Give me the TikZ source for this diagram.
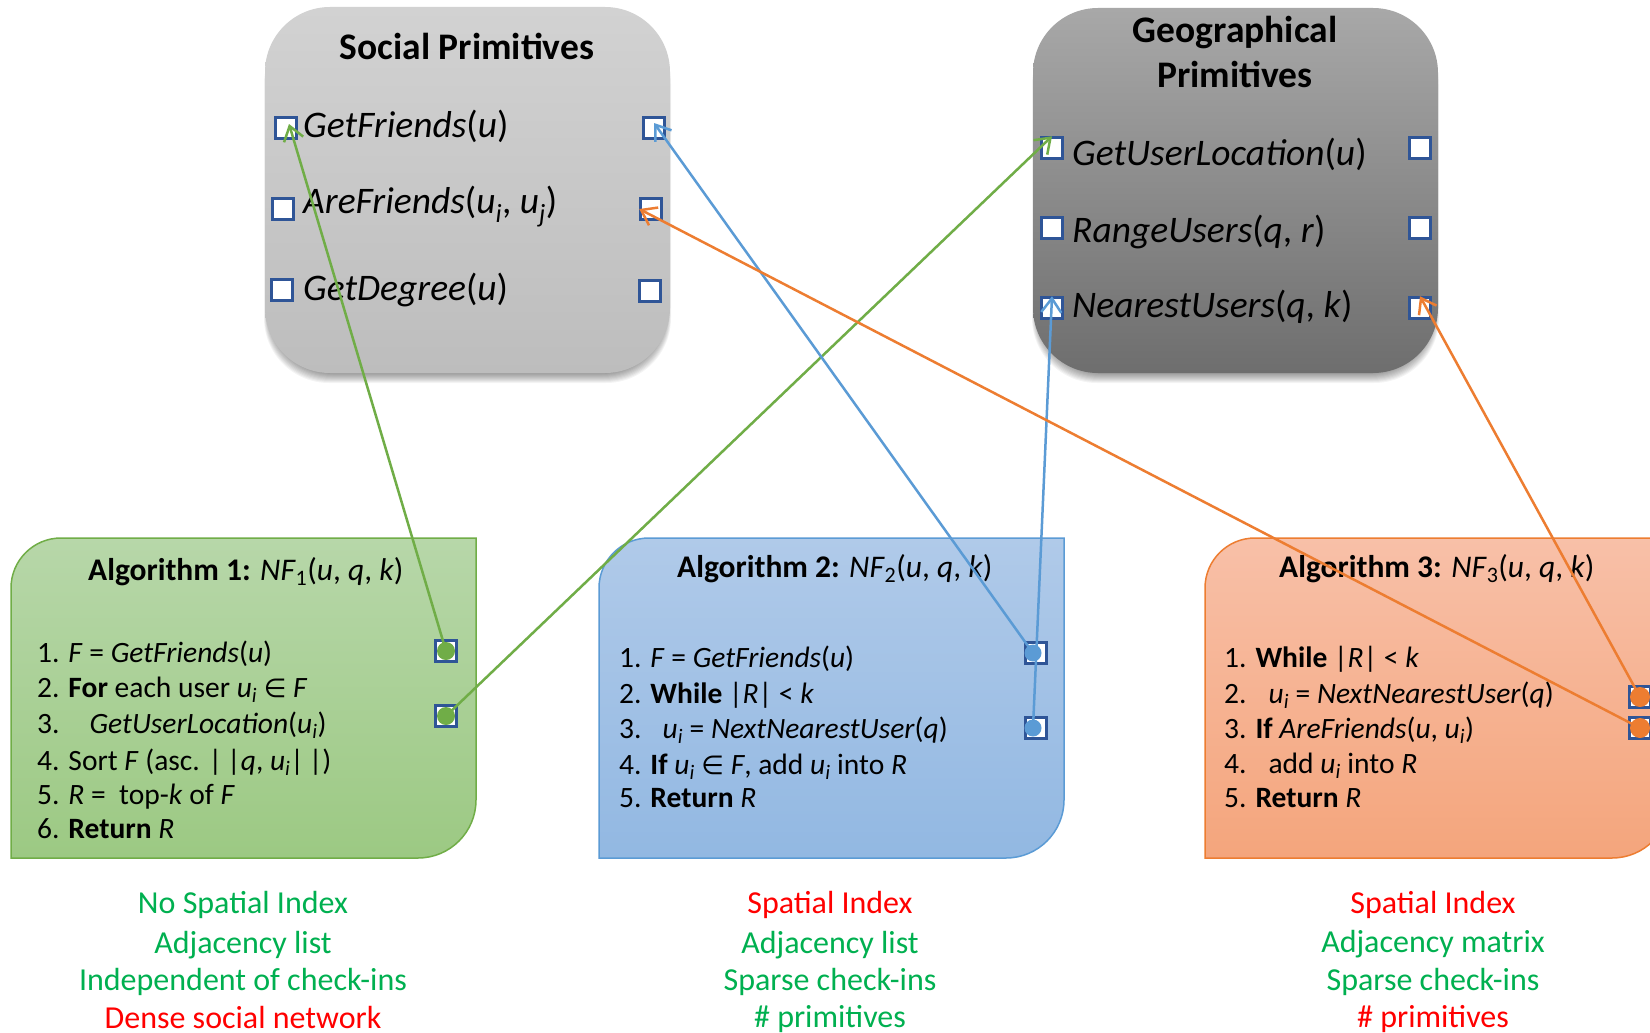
\documentclass[tikz,border=0pt]{standalone}
\usepackage{fontspec}
\setmainfont{Carlito}
\newfontfamily\symf{DejaVu Sans}
\usetikzlibrary{arrows.meta,calc}
\definecolor{sqblue}{HTML}{2F5597}
\definecolor{ggreen}{HTML}{70AD47}
\definecolor{gblue}{HTML}{5B9BD5}
\definecolor{gorange}{HTML}{ED7D31}
\definecolor{txtgreen}{HTML}{00B050}
\definecolor{txtred}{HTML}{FF0000}
\definecolor{aonetop}{HTML}{B7D7A9}
\definecolor{aonebot}{HTML}{9CC983}
\definecolor{atwotop}{HTML}{B0CAE9}
\definecolor{atwobot}{HTML}{92B8E2}
\definecolor{athreetop}{HTML}{F8C0A8}
\definecolor{athreebot}{HTML}{F4A57C}
\definecolor{soctop}{HTML}{D2D2D2}
\definecolor{socbot}{HTML}{BDBDBD}
\definecolor{geotop}{HTML}{A8A8A8}
\definecolor{geobot}{HTML}{6E6E6E}
\newcommand\iv[1]{\textit{#1}}
\newcommand\ui{\textit{u}\textsubscript{\textit{i}}}
\newcommand\elem{{\symf\fontsize{26}{30}\selectfont ∈}}
\tikzset{
  sq/.style={draw=sqblue, fill=white, line width=2.5pt, minimum size=21pt, inner sep=0pt},
  prim/.style={anchor=base west, font=\fontsize{37.5}{40}\selectfont, inner sep=0pt},
  ptitle/.style={anchor=base, font=\fontsize{37.5}{40}\selectfont\bfseries, inner sep=0pt},
  algt/.style={anchor=base west, font=\fontsize{29.5}{32}\selectfont, inner sep=0pt},
  algh/.style={anchor=base west, font=\fontsize{31.5}{34}\selectfont, inner sep=0pt},
  note/.style={anchor=base, font=\fontsize{32}{34}\selectfont, inner sep=0pt},
  conn/.style={line width=2.5pt, -{Straight Barb[length=14pt,width=20pt]}},
  primbox/.style={rounded corners=65pt, inner sep=0pt},
}
\begin{document}
\begin{tikzpicture}[x=1pt,y=-1pt]
\path[use as bounding box, fill=white] (0,0) rectangle (1650,1033);
\clip (0,0) rectangle (1650,1033);

% shadows
\foreach \k in {1,...,10}{
  \fill[black, opacity=0.045, rounded corners=65pt] (269-\k*0.5,19) rectangle (666+\k*0.5,373+\k);
  \fill[black, opacity=0.045, rounded corners=65pt] (1037-\k*0.5,20) rectangle (1434+\k*0.5,373+\k);
}
% primitive boxes
\node[primbox, top color=soctop, bottom color=socbot, minimum width=405pt, minimum height=366pt] (soc) at (467.5,190) {};
\node[primbox, top color=geotop, bottom color=geobot, minimum width=405pt, minimum height=365pt] (geo) at (1235.5,190.5) {};

\node[ptitle] (soct) at (467,60) {Social Primitives};
\node[prim] (p1) at (303,137) {\iv{GetFriends}(\iv{u})};
\node[prim] (p2) at (303,213) {\iv{AreFriends}(\ui, \iv{u}\textsubscript{\iv{j}})};
\node[prim] (p3) at (303,300) {\iv{GetDegree}(\iv{u})};

\node[ptitle] (geot1) at (1235,43) {Geographical};
\node[ptitle] (geot2) at (1235,88) {Primitives};
\node[prim] (g1) at (1072,165) {\iv{GetUserLocation}(\iv{u})};
\node[prim] (g2) at (1072,242) {\iv{RangeUsers}(\iv{q}, \iv{r})};
\node[prim] (g3) at (1072,317) {\iv{NearestUsers}(\iv{q}, \iv{k})};

\node[sq] (sL1) at (286,128) {};
\node[sq] (sL2) at (283,209) {};
\node[sq] (sL3) at (282,290) {};
\node[sq] (sR1) at (654,128) {};
\node[sq] (sR2) at (651,209) {};
\node[sq] (sR3) at (650,291) {};
\node[sq] (gL1) at (1052,148) {};
\node[sq] (gL2) at (1052,228) {};
\node[sq] (gL3) at (1052,308) {};
\node[sq] (gR1) at (1420,148) {};
\node[sq] (gR2) at (1420,228) {};
\node[sq] (gR3) at (1420,308) {};

% algorithm boxes
\path[top color=aonetop, bottom color=aonebot, draw=ggreen, line width=1.5pt]
  (11,858) -- (11,588) .. controls (11,560.4) and (33.4,538) .. (61,538)
  -- (476,538) -- (476,800) .. controls (476,832) and (450,858) .. (418,858) -- cycle;
\path[top color=atwotop, bottom color=atwobot, draw=gblue, line width=1.5pt]
  (599,858) -- (599,588) .. controls (599,560.4) and (621.4,538) .. (649,538)
  -- (1064,538) -- (1064,800) .. controls (1064,832) and (1038,858) .. (1006,858) -- cycle;
\path[top color=athreetop, bottom color=athreebot, draw=gorange, line width=1.5pt]
  (1205,858) -- (1205,588) .. controls (1205,560.4) and (1227.4,538) .. (1255,538)
  -- (1670,538) -- (1670,800) .. controls (1670,832) and (1644,858) .. (1612,858) -- cycle;

% Algorithm 1
\node[algh] (a1t) at (88,580) {\textbf{Algorithm 1:} \iv{NF}\textsubscript{1}(\iv{u}, \iv{q}, \iv{k})};
\node[algt] (a1l1) at (37,662) {1. \iv{F} = \iv{GetFriends}(\iv{u})};
\node[algt] (a1l2) at (37,697) {2. \textbf{For} each user \ui{} \elem{} \iv{F}};
\node[algt] (a1l3) at (37,733) {3.\hspace{30pt}\iv{GetUserLocation}(\ui)};
\node[algt] (a1l4) at (37,770) {4. Sort \iv{F} (asc. |\,|\iv{q}, \ui|\,|)};
\node[algt] (a1l5) at (37,804) {5. \iv{R} = \ top-\iv{k} of \iv{F}};
\node[algt] (a1l6) at (37,838) {6. \textbf{Return} \iv{R}};

% Algorithm 2
\node[algh] (a2t) at (677,577) {\textbf{Algorithm 2:} \iv{NF}\textsubscript{2}(\iv{u}, \iv{q}, \iv{k})};
\node[algt] (a2l1) at (619,667) {1. \iv{F} = \iv{GetFriends}(\iv{u})};
\node[algt] (a2l2) at (619,703) {2. \textbf{While} |\iv{R}| < \iv{k}};
\node[algt] (a2l3) at (619,738) {3.\hspace{21pt}\ui{} = \iv{NextNearestUser}(\iv{q})};
\node[algt] (a2l4) at (619,774) {4. \textbf{If} \ui{} \elem{} \iv{F}, add \ui{} into \iv{R}};
\node[algt] (a2l5) at (619,807) {5. \textbf{Return} \iv{R}};

% Algorithm 3
\node[algh] (a3t) at (1279,577) {\textbf{Algorithm 3:} \iv{NF}\textsubscript{3}(\iv{u}, \iv{q}, \iv{k})};
\node[algt] (a3l1) at (1224,667) {1. \textbf{While} |\iv{R}| < \iv{k}};
\node[algt] (a3l2) at (1224,703) {2.\hspace{22pt}\ui{} = \iv{NextNearestUser}(\iv{q})};
\node[algt] (a3l3) at (1224,738) {3. \textbf{If} \iv{AreFriends}(\iv{u}, \ui)};
\node[algt] (a3l4) at (1224,773) {4.\hspace{22pt}add \ui{} into \iv{R}};
\node[algt] (a3l5) at (1224,807) {5. \textbf{Return} \iv{R}};

% connector squares in algorithms
\node[sq] (a1s1) at (446,651) {};
\node[sq] (a1s2) at (446,716) {};
\node[sq] (a2s1) at (1036,653) {};
\node[sq] (a2s2) at (1036,728) {};
\node[sq] (a3s1) at (1640,697) {};
\node[sq] (a3s2) at (1640,728) {};
\fill[ggreen] (a1s1.center) circle (9);
\fill[ggreen] (a1s2.center) circle (9);
\fill[gblue] ([xshift=-3pt]a2s1.center) circle (8.5);
\fill[gblue] ([xshift=-3pt]a2s2.center) circle (8.5);
\fill[gorange] (a3s1.center) circle (10);
\fill[gorange] (a3s2.center) circle (10);

% notes
\node[note, text=txtgreen] (n11) at (243,913) {No Spatial Index};
\node[note, text=txtgreen] (n12) at (243,953) {Adjacency list};
\node[note, text=txtgreen] (n13) at (243,990) {Independent of check-ins};
\node[note, text=txtred] (n14) at (243,1028) {Dense social network};
\node[note, text=txtred] (n21) at (830,913) {Spatial Index};
\node[note, text=txtgreen] (n22) at (830,953) {Adjacency list};
\node[note, text=txtgreen] (n23) at (830,990) {Sparse check-ins};
\node[note, text=txtgreen] (n24) at (830,1027) {\# primitives};
\node[note, text=txtred] (n31) at (1433,913) {Spatial Index};
\node[note, text=txtgreen] (n32) at (1433,952) {Adjacency matrix};
\node[note, text=txtgreen] (n33) at (1433,990) {Sparse check-ins};
\node[note, text=txtred] (n34) at (1433,1027) {\# primitives};

% connectors
\draw[conn, ggreen] (a1s1.center) -- ([xshift=3pt,yshift=4pt]sL1.center);
\draw[conn, ggreen] (a1s2.center) -- (gL1.north);
\draw[conn, gblue] ([xshift=-3pt]a2s1.center) -- ([yshift=5pt]sR1.center);
\draw[conn, gblue] ([xshift=-3pt]a2s2.center) -- (gL3.north);
\draw[conn, gorange] (a3s2.center) -- (sR2.west);
\draw[conn, gorange] (a3s1.center) -- (gR3.north);
\end{tikzpicture}
\end{document}
